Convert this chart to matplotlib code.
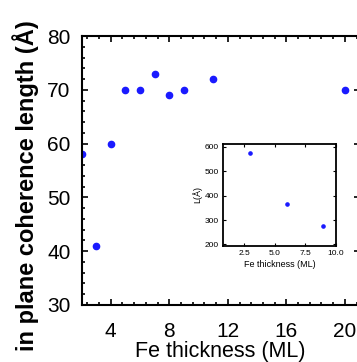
import numpy as np
import matplotlib
matplotlib.use('Agg')
import matplotlib.pyplot as plt
from matplotlib.ticker import MultipleLocator, AutoMinorLocator

plt.rcParams['font.family'] = ['Liberation Sans', 'DejaVu Sans']

# main panel data
fe_thick = [2, 3, 4, 5, 6, 7, 8, 9, 11, 20]
coh_len = [58, 41, 60, 70, 70, 73, 69, 70, 72, 70]

# inset data
ins_thick = [3, 6, 9]
ins_L = [575, 365, 275]

fig = plt.figure(figsize=(3.57, 3.62), dpi=100)
W, H = 357, 362

ax = fig.add_axes([81.5 / W, 1 - 305 / H, 278 / W, 269 / H])
ax.plot(fe_thick, coh_len, 'o', color='#1a1aff', markersize=4.5, clip_on=True)
ax.set_xlim(2, 21)
ax.set_ylim(30, 80)
ax.xaxis.set_major_locator(MultipleLocator(4))
ax.xaxis.set_minor_locator(AutoMinorLocator(5))
ax.yaxis.set_major_locator(MultipleLocator(10))
ax.yaxis.set_minor_locator(AutoMinorLocator(5))
ax.tick_params(which='both', direction='in', top=True, right=True, width=1.2)
ax.tick_params(which='major', length=4, labelsize=15)
ax.tick_params(axis='x', which='major', pad=12)
ax.tick_params(axis='y', which='major', pad=8)
ax.tick_params(which='minor', length=2.5)
for s in ax.spines.values():
    s.set_linewidth(1.5)
fig.text(220 / W, 1 - 352 / H, 'Fe thickness (ML)', fontsize=15.5,
         ha='center', va='center')
fig.text(26 / W, 1 - 186 / H, 'in plane coherence length (Å)', fontsize=17,
         fontweight='bold', rotation=90, ha='center', va='center')

# inset
axi = fig.add_axes([223.3 / W, 1 - 245.7 / H, 112.4 / W, 102 / H])
axi.plot(ins_thick, ins_L, 'o', color='#1a1aff', markersize=2.3)
axi.set_xlim(0.8, 10)
axi.set_ylim(195, 612)
axi.xaxis.set_major_locator(MultipleLocator(2.5))
axi.yaxis.set_major_locator(MultipleLocator(100))
axi.tick_params(which='both', direction='in', top=True, right=True, width=0.8)
axi.tick_params(which='major', length=2.5, labelsize=6, pad=3)
axi.xaxis.set_major_formatter(matplotlib.ticker.FormatStrFormatter('%.1f'))
for s in axi.spines.values():
    s.set_linewidth(1.3)
axi.set_xlabel('Fe thickness (ML)', fontsize=6.5, labelpad=2)
axi.set_ylabel('L(Å)', fontsize=6.5, labelpad=2)

fig.savefig('out.png', dpi=100)
